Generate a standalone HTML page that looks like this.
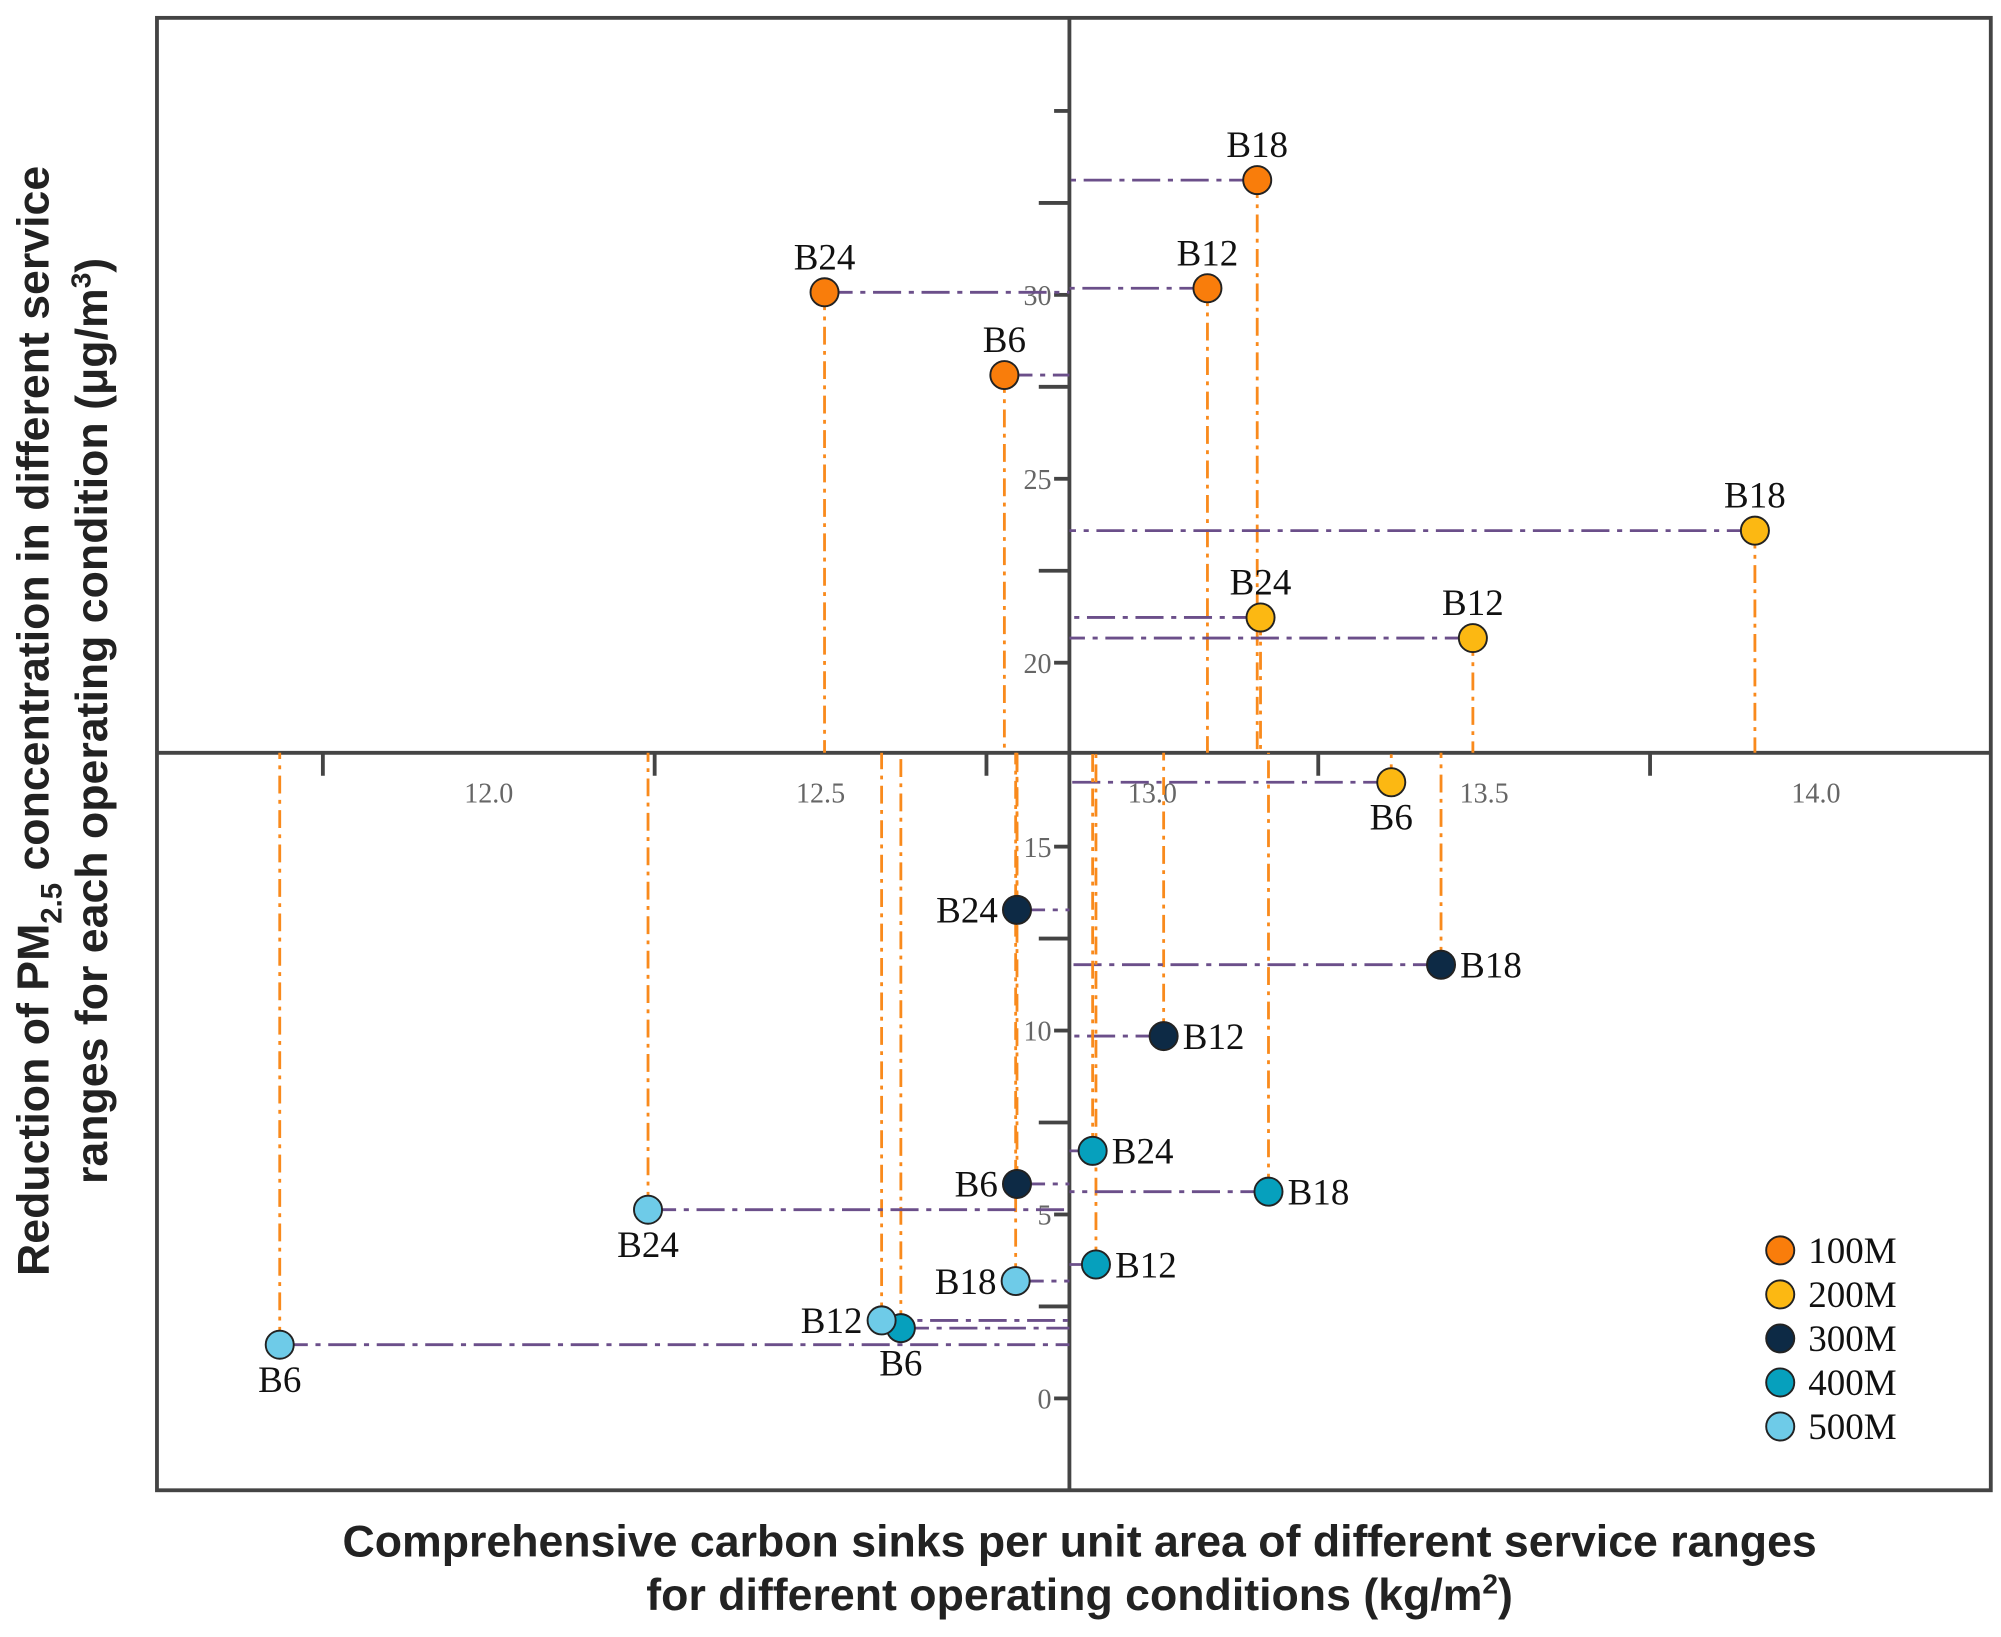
<!DOCTYPE html>
<html><head><meta charset="utf-8"><style>
html,body{margin:0;padding:0;background:#fff;}
svg{display:block;}
</style></head><body>
<svg id="chart" width="2001" height="1637" viewBox="0 0 1568 1283" preserveAspectRatio="none" xmlns="http://www.w3.org/2000/svg">
<rect x="0" y="0" width="1568" height="1283" fill="#fff"/>
<g id="grid"></g>
<g id="marks"></g>
<text transform="translate(38,565) rotate(-90)" text-anchor="middle" font-family="Liberation Sans, sans-serif" font-weight="bold" font-size="35" fill="#222">Reduction of PM<tspan font-size="23" dy="10">2.5</tspan><tspan dy="-10"> concentration in different service</tspan></text>
<text transform="translate(84,565) rotate(-90)" text-anchor="middle" font-family="Liberation Sans, sans-serif" font-weight="bold" font-size="35" fill="#222">ranges for each operating condition (μg/m<tspan font-size="22" dy="-13">3</tspan><tspan dy="13">)</tspan></text>
<text x="846" y="1220" text-anchor="middle" font-family="Liberation Sans, sans-serif" font-weight="bold" font-size="35" fill="#222">Comprehensive carbon sinks per unit area of different service ranges</text>
<text x="846" y="1262" text-anchor="middle" font-family="Liberation Sans, sans-serif" font-weight="bold" font-size="35" fill="#222">for different operating conditions (kg/m<tspan font-size="22" dy="-13">2</tspan><tspan dy="13">)</tspan></text>
</svg>
<script>
const seriesNames = ["100M","200M","300M","400M","500M"];
const pointLabels = ["B6","B12","B18","B24"];
const carbon100 = [12.777, 13.083, 13.158, 12.506];
const pm100 = [27.82, 30.18, 33.12, 30.07];
const carbon200 = [13.36, 13.483, 13.908, 13.163];
const pm200 = [16.75, 20.67, 23.59, 21.23];
const carbon300 = [12.796, 13.017, 13.435, 12.796];
const pm300 = [5.83, 9.85, 11.79, 13.28];
const carbon400 = [12.621, 12.915, 13.175, 12.91];
const pm400 = [1.91, 3.64, 5.62, 6.73];
const carbon500 = [11.685, 12.592, 12.794, 12.24];
const pm500 = [1.46, 2.12, 3.19, 5.13];
const xTickLabels = ["12.0","12.5","13.0","13.5","14.0"];
const xTickValues = [12.0,12.5,13.0,13.5,14.0];
const yTickLabels = ["0","5","10","15","20","25","30"];
const yTickValues = [0,5,10,15,20,25,30];

const carbonSeries = [carbon100,carbon200,carbon300,carbon400,carbon500];
const pmSeries = [pm100,pm200,pm300,pm400,pm500];
const colors = ["#f97d0b","#fcb812","#0d2a45","#06a0bd","#6ecbe8"];
const placement = [["a","a","a","a"],["b","a","a","a"],["l","r","r","l"],["b","r","r","r"],["b","l","l","b"]];

const NS = "http://www.w3.org/2000/svg";
const X0 = 838, Y0 = 590;
function xs(v){ return 383 + (v-12)*520; }
function ys(v){ return 1096 - v*28.83; }
function mk(tag, attrs, parent){
  const e = document.createElementNS(NS, tag);
  for (const k in attrs) e.setAttribute(k, attrs[k]);
  parent.appendChild(e); return e;
}
const svg = document.getElementById('chart');
const grid = document.getElementById('grid');
const marks = document.getElementById('marks');

const frame = mk('rect',{x:123,y:14,width:1437,height:1154,fill:'none',stroke:'#444','stroke-width':3},grid);


const vAxis = mk('line',{x1:X0,y1:14,x2:X0,y2:1168,stroke:'#444','stroke-width':3},grid);


const hAxis = mk('line',{x1:123,y1:Y0,x2:1560,y2:Y0,stroke:'#444','stroke-width':3},grid);



xTickValues.forEach((v,i)=>{
  const x = xs(v);
  const t = mk('line',{x1:x-130,y1:Y0,x2:x-130,y2:Y0+18,stroke:'#444','stroke-width':3},grid);
  
  
  const l = mk('text',{x:x,y:Y0+39,'text-anchor':'middle','font-family':'Liberation Serif, serif','font-size':22,fill:'#666'},grid);
  l.textContent = xTickLabels[i];
  
  
});
yTickValues.forEach((v,i)=>{
  const y = ys(v);
  const t = mk('line',{x1:X0-12,y1:y,x2:X0,y2:y,stroke:'#444','stroke-width':3},grid);
  
  
  const l = mk('text',{x:X0-14,y:y+8,'text-anchor':'end','font-family':'Liberation Serif, serif','font-size':22,fill:'#666'},grid);
  l.textContent = yTickLabels[i];
  
  
  const y2 = ys(v+2.5);
  if (v+2.5 !== 17.5) {
    const m = mk('line',{x1:X0-24,y1:y2,x2:X0,y2:y2,stroke:'#444','stroke-width':3},grid);
    
    
  }
});
{
  const y = ys(35);
  const t = mk('line',{x1:X0-12,y1:y,x2:X0,y2:y,stroke:'#444','stroke-width':3},grid);
  
  
}

carbonSeries.forEach((cs,s)=>{
  cs.forEach((c,i)=>{
    const x = xs(c), y = ys(pmSeries[s][i]);
    const h = mk('line',{x1:x,y1:y,x2:X0,y2:y,stroke:'#6b4f8a','stroke-width':2.2,'stroke-dasharray':'22 6 4 6'},marks);
    
    
    const v = mk('line',{x1:x,y1:y,x2:x,y2:Y0,stroke:'#f98a1c','stroke-width':2.2,'stroke-dasharray':'14 5 3 5'},marks);
    
    
  });
});
carbonSeries.forEach((cs,s)=>{
  cs.forEach((c,i)=>{
    const x = xs(c), y = ys(pmSeries[s][i]);
    const p = mk('circle',{cx:x,cy:y,r:11,fill:colors[s],stroke:'#222','stroke-width':1.5},marks);
    
    
    const pos = placement[s][i];
    let lx=x, ly=y, anchor='middle';
    if (pos==='a'){ ly=y-18; }
    else if (pos==='b'){ ly=y+37; }
    else if (pos==='r'){ lx=x+15; ly=y+10; anchor='start'; }
    else { lx=x-15; ly=y+10; anchor='end'; }
    const t = mk('text',{x:lx,y:ly,'text-anchor':anchor,'font-family':'Liberation Serif, serif','font-size':29,fill:'#111'},marks);
    t.textContent = pointLabels[i];
    
    
  });
});
seriesNames.forEach((n,s)=>{
  const y = 980 + s*34.5;
  const c = mk('circle',{cx:1395,cy:y,r:11,fill:colors[s],stroke:'#222','stroke-width':1.5},svg);
  
  
  const t = mk('text',{x:1417,y:y+10,'font-family':'Liberation Serif, serif','font-size':29,fill:'#111'},svg);
  t.textContent = n;
  
  
});
</script>
</body></html>
